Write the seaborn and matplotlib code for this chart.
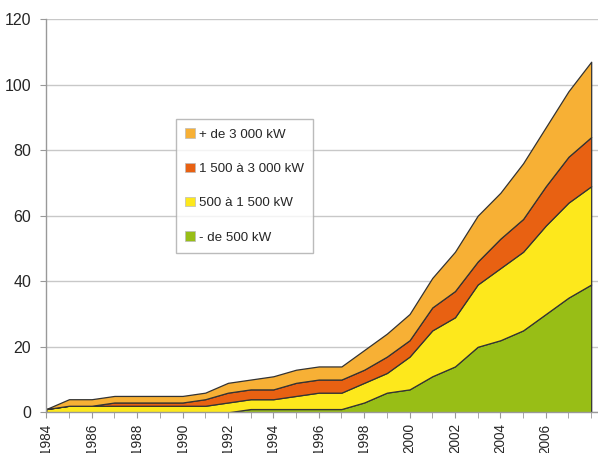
import numpy as np
import pandas as pd
import matplotlib
matplotlib.use("Agg")
import matplotlib.pyplot as plt
import seaborn as sns

years = list(range(1984, 2009))
moins_500 = [0, 0, 0, 0, 0, 0, 0, 0, 0, 1, 1, 1, 1, 1, 3, 6, 7, 11, 14, 20, 22, 25, 30, 35, 39]
de_500_a_1500 = [1, 2, 2, 2, 2, 2, 2, 2, 3, 3, 3, 4, 5, 5, 6, 6, 10, 14, 15, 19, 22, 24, 27, 29, 30]
de_1500_a_3000 = [0, 0, 0, 1, 1, 1, 1, 2, 3, 3, 3, 4, 4, 4, 4, 5, 5, 7, 8, 7, 9, 10, 12, 14, 15]
plus_3000 = [0, 2, 2, 2, 2, 2, 2, 2, 3, 3, 4, 4, 4, 4, 6, 7, 8, 9, 12, 14, 14, 17, 18, 20, 23]

labels = ["- de 500 kW", "500 à 1 500 kW", "1 500 à 3 000 kW", "+ de 3 000 kW"]
colors = ["#98be16", "#fde81c", "#e86112", "#f7b035"]

df = pd.DataFrame({
    "annee": years,
    labels[0]: moins_500,
    labels[1]: de_500_a_1500,
    labels[2]: de_1500_a_3000,
    labels[3]: plus_3000,
})

sns.set_style("white")
plt.rcParams["font.family"] = ["Liberation Sans", "DejaVu Sans"]

fig = plt.figure(figsize=(5.98, 4.53), dpi=100)
ax = fig.add_axes([0.0774, 0.0898, 0.9226, 0.868])

polys = ax.stackplot(df["annee"], [df[l] for l in labels], labels=labels,
                     colors=colors, edgecolor="#333333", linewidth=0.9, zorder=3)

ax.set_xlim(1984, 2008.3)
ax.set_ylim(0, 120)
ax.set_yticks(range(0, 121, 20))
ax.set_xticks(years, minor=True)
ax.set_xticks(range(1984, 2007, 2))
ax.set_xticklabels([str(y) for y in range(1984, 2007, 2)], rotation=90)

ax.yaxis.grid(True, color="#c8c8c8", linewidth=1.0, zorder=0)
ax.set_axisbelow(True)
for side in ["top", "right"]:
    ax.spines[side].set_visible(False)
for side in ["left", "bottom"]:
    ax.spines[side].set_color("#999999")
    ax.spines[side].set_linewidth(1.0)
    ax.spines[side].set_zorder(4)

ax.tick_params(axis="y", which="major", length=4, color="#999999", labelsize=11.5, pad=7)
ax.tick_params(axis="x", which="both", length=4, color="#999999", direction="out")
ax.tick_params(axis="x", which="major", labelsize=9.8, pad=4)
ax.tick_params(bottom=True, left=True)
ax.tick_params(axis="x", which="minor", bottom=True)

handles, labs = ax.get_legend_handles_labels()
leg = ax.legend(handles[::-1], labs[::-1], loc="upper left", bbox_to_anchor=(0.235, 0.746),
                borderaxespad=0, frameon=True, fancybox=False, fontsize=9.6,
                handlelength=0.7, handleheight=0.7, handletextpad=0.3,
                labelspacing=1.65, borderpad=0.7)
leg.get_frame().set_edgecolor("#aaaaaa")
leg.get_frame().set_linewidth(1.0)
for h in leg.legend_handles:
    h.set_edgecolor("#bbbbbb")
    h.set_linewidth(0.5)

fig.savefig("out.png", dpi=100)
